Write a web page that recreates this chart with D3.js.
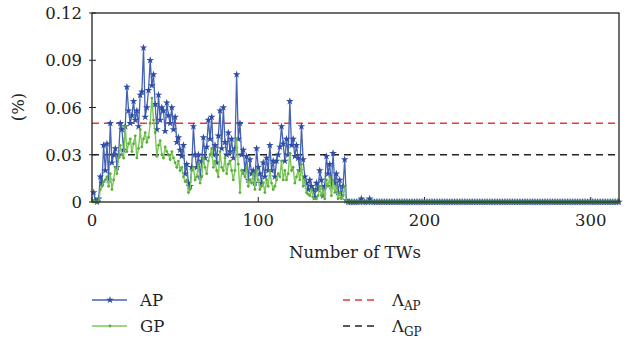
<!DOCTYPE html>
<html>
<head>
<meta charset="utf-8">
<script src="https://cdn.jsdelivr.net/npm/d3@7"></script>
<style>
  body { margin: 0; background: #fff; }
  text { font-family: "DejaVu Serif", "Liberation Serif", serif; fill: #222; }
</style>
</head>
<body>
<div id="chart"></div>
<script>
// AP and GP per TW (index 1..317)
const apValues = [
  .006,.001,0,.002,.016,.012,.036,.020,.037,.014,
  .050,.025,.030,.034,.022,.030,.050,.046,.033,.048,
  .073,.058,.050,.055,.064,.052,.058,.048,.068,.070,
  .098,.054,.060,.071,.090,.074,.081,.062,.046,.068,
  .052,.060,.058,.045,.063,.055,.050,.060,.046,.054,
  .038,.041,.033,.029,.036,.018,.024,.012,.010,.022,
  .048,.030,.022,.030,.016,.026,.041,.028,.035,.052,
  .040,.054,.030,.036,.025,.042,.058,.034,.060,.038,
  .030,.044,.032,.040,.028,.034,.081,.040,.050,.030,
  .033,.020,.029,.014,.027,.018,.020,.012,.034,.022,
  .018,.012,.025,.016,.028,.020,.036,.020,.026,.016,
  .026,.030,.035,.048,.037,.026,.040,.030,.064,.036,
  .040,.029,.036,.028,.020,.048,.027,.016,.012,.008,
  .014,.010,.008,.003,.012,.008,.020,.014,.004,.010,
  .029,.018,.024,.010,.031,.012,.018,.006,.014,.004,
  .010,.027,.001,
  0,0,0,0,0,0,0,0,.002,0,0,0,0,.002,
  0,0,0,0,0,0,0,0,0,0, 0,0,0,0,0,0,0,0,0,0,
  0,0,0,0,0,0,0,0,0,0, 0,0,0,0,0,0,0,0,0,0,
  0,0,0,0,0,0,0,0,0,0, 0,0,0,0,0,0,0,0,0,0,
  0,0,0,0,0,0,0,0,0,0, 0,0,0,0,0,0,0,0,0,0,
  0,0,0,0,0,0,0,0,0,0, 0,0,0,0,0,0,0,0,0,0,
  0,0,0,0,0,0,0,0,0,0, 0,0,0,0,0,0,0,0,0,0,
  0,0,0,0,0,0,0,0,0,0, 0,0,0,0,0,0,0,0,0,0,
  0,0,0,0,0,0,0,0,0,0
];
const gpValues = [
  .001,0,0,0,.008,.010,.013,.014,.016,.010,
  .018,.008,.014,.022,.018,.028,.036,.030,.028,.048,
  .032,.037,.040,.032,.037,.042,.028,.034,.046,.035,
  .040,.044,.038,.041,.050,.066,.052,.044,.029,.036,
  .039,.030,.028,.035,.032,.030,.027,.032,.028,.025,
  .022,.026,.020,.022,.016,.013,.014,.006,.008,.020,
  .022,.014,.016,.024,.012,.016,.028,.022,.018,.026,
  .030,.034,.022,.026,.020,.016,.032,.022,.020,.028,
  .018,.024,.026,.020,.014,.020,.040,.024,.006,.020,
  .018,.016,.022,.010,.014,.012,.018,.008,.020,.014,
  .008,.010,.012,.006,.014,.010,.020,.012,.008,.010,
  .014,.018,.016,.026,.014,.020,.014,.018,.031,.020,
  .022,.012,.016,.020,.014,.024,.010,.014,.006,.005,
  .004,.008,.003,.002,.002,.004,.010,.004,.008,.002,
  .014,.010,.016,.004,.014,.006,.010,.002,.006,.002,
  .004,.010,0,
  0,0,0,0,0,0,0,0,0,0, 0,0,0,0,0,0,0,0,0,0,
  0,0,0,0,0,0,0,0,0,0, 0,0,0,0,0,0,0,0,0,0,
  0,0,0,0,0,0,0,0,0,0, 0,0,0,0,0,0,0,0,0,0,
  0,0,0,0,0,0,0,0,0,0, 0,0,0,0,0,0,0,0,0,0,
  0,0,0,0,0,0,0,0,0,0, 0,0,0,0,0,0,0,0,0,0,
  0,0,0,0,0,0,0,0,0,0, 0,0,0,0,0,0,0,0,0,0,
  0,0,0,0,0,0,0,0,0,0, 0,0,0,0,0,0,0,0,0,0,
  0,0,0,0,0,0,0,0,0,0, 0,0,0,0,0,0,0,0,0,0,
  0,0,0,0
];
const thresholds = [
  { name: "AP", value: 0.05, color: "#e8383d" },
  { name: "GP", value: 0.03, color: "#222" }
];
const xTicks = [0, 100, 200, 300];
const yTicks = [0, 0.03, 0.06, 0.09, 0.12];
const yTickLabels = ["0", "0.03", "0.06", "0.09", "0.12"];

const width = 630, height = 343;
const plot = { left: 92, right: 619, top: 13, bottom: 202 };
const fs = "16.5px";

const svg = d3.select("#chart").append("svg")
  .attr("width", width)
  .attr("height", height);

const x = d3.scaleLinear().domain([0, 317]).range([plot.left, plot.right]);
const y = d3.scaleLinear().domain([0, 0.12]).range([plot.bottom, plot.top]);

const apColor = "#2f4ea3", gpColor = "#5aae3a";

// ticks (inside, with a short stub out on the y axis)
svg.selectAll(".ytick").data(yTicks).enter().append("line")
  .attr("x1", plot.left - 3).attr("x2", plot.left + 4)
  .attr("y1", d => y(d)).attr("y2", d => y(d))
  .attr("stroke", "#222").attr("stroke-width", 1);
svg.selectAll(".xtick").data(xTicks).enter().append("line")
  .attr("x1", d => x(d)).attr("x2", d => x(d))
  .attr("y1", plot.bottom).attr("y2", plot.bottom - 5)
  .attr("stroke", "#222").attr("stroke-width", 1);

svg.selectAll(".ylab").data(yTicks).enter().append("text")
  .attr("x", plot.left - 10)
  .attr("y", d => y(d) + 6)
  .attr("text-anchor", "end")
  .style("font-size", fs)
  .text((d, i) => yTickLabels[i]);
svg.selectAll(".xlab").data(xTicks).enter().append("text")
  .attr("x", d => x(d))
  .attr("y", 226)
  .attr("text-anchor", "middle")
  .style("font-size", fs)
  .text(d => d);

// threshold lines
svg.selectAll(".thr").data(thresholds).enter().append("line")
  .attr("x1", plot.left).attr("x2", plot.right)
  .attr("y1", d => y(d.value)).attr("y2", d => y(d.value))
  .attr("stroke", d => d.color)
  .attr("stroke-width", 1.3)
  .attr("stroke-dasharray", "7,5");

const tw = apValues.map((d, i) => i + 1);
const line = d3.line().x((d, i) => x(tw[i])).y(d => y(d));

// AP
svg.append("path").attr("d", line(apValues))
  .attr("fill", "none").attr("stroke", "#4563b5").attr("stroke-width", 1.3);
const star = d3.symbol().type(d3.symbolStar).size(18);
svg.selectAll(".apDot").data(apValues).enter().append("path")
  .attr("d", star)
  .attr("transform", (d, i) => `translate(${x(tw[i])},${y(d)})`)
  .attr("fill", apColor);

// GP
svg.append("path").attr("d", line(gpValues))
  .attr("fill", "none").attr("stroke", "#7cc75a").attr("stroke-width", 1.4);
svg.selectAll(".gpDot").data(gpValues).enter().append("circle")
  .attr("cx", (d, i) => x(tw[i]))
  .attr("cy", d => y(d))
  .attr("r", 1.4)
  .attr("fill", gpColor);

// frame
svg.append("rect")
  .attr("x", plot.left).attr("y", plot.top)
  .attr("width", plot.right - plot.left).attr("height", plot.bottom - plot.top)
  .attr("fill", "none").attr("stroke", "#222").attr("stroke-width", 1.3);

// axis titles
svg.append("text")
  .attr("x", 355)
  .attr("y", 258)
  .attr("text-anchor", "middle")
  .style("font-size", fs)
  .text("Number of TWs");
svg.append("text")
  .attr("transform", "translate(24,107) rotate(-90)")
  .attr("text-anchor", "middle")
  .style("font-size", fs)
  .text("(%)");

// legend
const leg = svg.append("g");
leg.append("line").attr("x1", 92).attr("x2", 127).attr("y1", 300).attr("y2", 300)
  .attr("stroke", "#4563b5").attr("stroke-width", 1.3);
leg.append("path").attr("d", star).attr("transform", "translate(110,300)").attr("fill", apColor);
leg.append("text").attr("x", 140).attr("y", 306).style("font-size", fs).text("AP");
leg.append("line").attr("x1", 92).attr("x2", 127).attr("y1", 326).attr("y2", 326)
  .attr("stroke", "#7cc75a").attr("stroke-width", 1.4);
leg.append("circle").attr("cx", 110).attr("cy", 326).attr("r", 1.4).attr("fill", gpColor);
leg.append("text").attr("x", 140).attr("y", 332).style("font-size", fs).text("GP");

thresholds.forEach((t, i) => {
  const ly = 300 + i * 26;
  leg.append("line").attr("x1", 343).attr("x2", 378).attr("y1", ly).attr("y2", ly)
    .attr("stroke", t.color).attr("stroke-width", 1.3).attr("stroke-dasharray", "7,5");
  const txt = leg.append("text").attr("x", 392).attr("y", ly + 6).style("font-size", fs);
  txt.append("tspan").text("\u039B");
  txt.append("tspan").attr("dy", 4).style("font-size", "12px").text(t.name);
});
</script>
</body>
</html>
